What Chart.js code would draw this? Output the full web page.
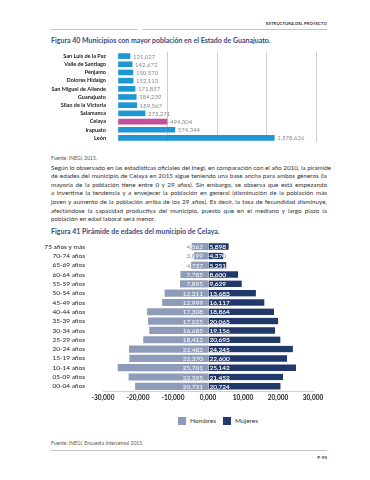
<!DOCTYPE html>
<html lang="es">
<head>
<meta charset="utf-8">
<script src="https://cdn.jsdelivr.net/npm/chart.js"></script>
<style>
  html, body { margin: 0; padding: 0; background: #fff; }
  body { width: 370px; height: 480px; position: relative; overflow: hidden; font-family: Lato, "Open Sans", sans-serif; color: #333; }
  .abs { position: absolute; }
  .rule { position: absolute; height: 1px; background: #c4c4c4; }
  .header { right: 43px; top: 20.5px; font-size: 4.2px; line-height: 5px; font-weight: 700; color: #333; letter-spacing: 0.1px; }
  .title { left: 51px; font-size: 7px; line-height: 9px; font-weight: 700; color: #3b4a7d; }
  .source { left: 51px; font-size: 5px; line-height: 6px; color: #555; }
  .para { left: 51px; top: 163.7px; width: 276px; font-size: 6.3px; line-height: 8.6px; color: #333; }
  .para div { white-space: nowrap; text-align: justify; text-align-last: justify; }
  .para div.last { text-align-last: left; }
  .legend { top: 417px; left: 0; width: 370px; height: 8px; font-size: 6.5px; line-height: 8px; color: #333; }
  .legend span.box { position: absolute; width: 8px; height: 8px; top: 0; }
  .legend span.txt { position: absolute; top: 0; }
  .page { right: 43px; top: 454.5px; font-size: 4.5px; line-height: 5px; font-weight: 700; color: #333; }
  canvas { position: absolute; left: 0; }
</style>
</head>
<body>

<div class="abs header">ESTRUCTURA DEL PROYECTO</div>
<div class="rule" style="left:51px; width:86px; top:28.5px;"></div>
<div class="rule" style="left:142px; width:185px; top:28.5px;"></div>

<div class="abs title" style="top:35.5px;">Figura 40 Municipios con mayor población en el Estado de Guanajuato.</div>
<canvas id="municipios" width="370" height="106" style="top:44px;"></canvas>
<div class="abs source" style="top:155px;">Fuente: INEGI, 2015.</div>

<div class="abs para">
  <div>Según lo observado en las estadísticas oficiales del Inegi, en comparación con el año 2010, la pirámide</div>
  <div>de edades del municipio de Celaya en 2015 sigue teniendo una base ancha para ambos géneros (la</div>
  <div>mayoría de la población tiene entre 0 y 29 años). Sin embargo, se observa que está empezando</div>
  <div>a invertirse la tendencia y a envejecer la población en general (disminución de la población más</div>
  <div>joven y aumento de la población arriba de los 29 años). Es decir, la tasa de fecundidad disminuye,</div>
  <div>afectándose la capacidad productiva del municipio, puesto que en el mediano y largo plazo la</div>
  <div class="last">población en edad laboral será menor.</div>
</div>

<div class="abs title" style="top:227px;">Figura 41 Pirámide de edades del municipio de Celaya.</div>
<canvas id="piramide" width="370" height="177" style="top:227.5px;"></canvas>
<div class="abs legend" id="legend"></div>

<div class="abs source" style="top:440px;">Fuente: INEGI, Encuesta Intercensal 2015.</div>
<div class="rule" style="left:51px; width:276px; top:450px;"></div>
<div class="abs page">P. 95</div>

<script>
// Figura 40
const municipios = ["San Luis de la Paz", "Valle de Santiago", "Pénjamo", "Dolores Hidalgo",
  "San Miguel de Allende", "Guanajuato", "Silao de la Victoria", "Salamanca", "Celaya", "Irapuato", "León"];
const poblacion = [121027, 142672, 150570, 152113, 171857, 184239, 189567, 273271, 494304, 574344, 1578626];
const destacado = "Celaya";

// Figura 41
const edades = ["75 años y más", "70-74 años", "65-69 años", "60-64 años", "55-59 años", "50-54 años",
  "45-49 años", "40-44 años", "35-39 años", "30-34 años", "25-29 años", "20-24 años",
  "15-19 años", "10-14 años", "05-09 años", "00-04 años"];
const hombres = [4562, 3899, 4737, 7785, 7895, 12311, 12999, 17308, 17025, 16685, 18412, 22482, 22370, 25701, 22595, 20731];
const mujeres = [5898, 4370, 5251, 8600, 9629, 13683, 16117, 18864, 20065, 19156, 20693, 24245, 22600, 25142, 21452, 20724];
const ejeValores = [-30000, -20000, -10000, 0, 10000, 20000, 30000];
const ejeEtiquetas = ["-30,000", "-20,000", "-10,000", "0,000", "10,000", "20,000", "30,000"];

const fmt = v => Math.abs(v).toLocaleString("en-US");
const AZUL = "#1f97d2", ROSA = "#c4509b";
const GRIS_H = "#8e9cba", AZUL_M = "#21396b";

// value labels after the bars (figura 40)
const etiquetasBarra = {
  id: "etiquetasBarra",
  afterDatasetsDraw(chart) {
    const c = chart.ctx;
    c.save();
    c.font = "6px Lato";
    c.fillStyle = "#8a8a8a";
    c.textBaseline = "middle";
    chart.getDatasetMeta(0).data.forEach((bar, i) => {
      c.fillText(fmt(poblacion[i]), bar.x + 3, bar.y + 0.5);
    });
    c.restore();
  }
};

new Chart(document.getElementById("municipios"), {
  type: "bar",
  data: {
    labels: municipios,
    datasets: [{
      data: poblacion,
      backgroundColor: ctx => municipios[ctx.dataIndex] === destacado ? ROSA : AZUL,
      barThickness: 5
    }]
  },
  options: {
    indexAxis: "y",
    responsive: false,
    animation: false,
    layout: { padding: { top: 8, bottom: 8, right: 54, left: 0 } },
    plugins: { legend: { display: false }, tooltip: { enabled: false } },
    scales: {
      x: {
        min: 0, max: 2000000,
        ticks: { display: false, stepSize: 500000 },
        grid: { color: ctx => ctx.tick && ctx.tick.value === 0 ? "rgba(0,0,0,0)" : "#cfcfcf", drawTicks: false },
        border: { display: false }
      },
      y: {
        afterFit: s => { s.width = 118; },
        ticks: { font: { family: "Lato", size: 5.5, weight: "bold" }, color: "#1a1a1a", padding: 4, autoSkip: false },
        grid: { display: false },
        border: { display: false }
      }
    }
  },
  plugins: [etiquetasBarra]
});

// value labels inside the pyramid bars, white on the bar and grey outside
const etiquetasPiramide = {
  id: "etiquetasPiramide",
  afterDatasetsDraw(chart) {
    const c = chart.ctx;
    const x0 = chart.scales.x.getPixelForValue(0);
    c.save();
    c.font = "6.5px Lato";
    c.textBaseline = "middle";
    chart.data.datasets.forEach((ds, d) => {
      const valores = d === 0 ? hombres : mujeres;
      chart.getDatasetMeta(d).data.forEach((bar, i) => {
        const txt = fmt(valores[i]);
        const tx = d === 0 ? x0 - 5 : x0 + 1.5;
        c.textAlign = d === 0 ? "right" : "left";
        c.fillStyle = "#8793ab";
        c.fillText(txt, tx, bar.y + 0.5);
        const left = Math.min(bar.x, bar.base), w = Math.abs(bar.x - bar.base);
        c.save();
        c.beginPath();
        c.rect(left, bar.y - bar.height / 2, w, bar.height);
        c.clip();
        c.fillStyle = "#ffffff";
        c.fillText(txt, tx, bar.y + 0.5);
        c.restore();
      });
    });
    c.restore();
  }
};

const piramide = new Chart(document.getElementById("piramide"), {
  type: "bar",
  data: {
    labels: edades,
    datasets: [
      { label: "Hombres", data: hombres.map(v => -v), backgroundColor: GRIS_H, barThickness: 6.5 },
      { label: "Mujeres", data: mujeres, backgroundColor: AZUL_M, barThickness: 6.5,
        borderColor: "#ffffff", borderWidth: { left: 1, right: 0, top: 0, bottom: 0 }, borderSkipped: false }
    ]
  },
  options: {
    indexAxis: "y",
    responsive: false,
    animation: false,
    layout: { padding: { top: 5, bottom: 2, right: 57, left: 0 } },
    plugins: { legend: { display: false }, tooltip: { enabled: false } },
    scales: {
      x: {
        stacked: true,
        min: ejeValores[0], max: ejeValores[ejeValores.length - 1],
        afterFit: s => { s.height = 12; },
        ticks: {
          stepSize: 10000,
          callback: v => ejeEtiquetas[ejeValores.indexOf(v)],
          font: { family: "Lato", size: 6.5, weight: "bold" }, color: "#1a1a1a", padding: 3,
          maxRotation: 0, autoSkip: false
        },
        grid: { display: false, drawTicks: false },
        border: { display: true, color: "#d0d0d0", width: 1 }
      },
      y: {
        stacked: true,
        afterFit: s => { s.width = 103; },
        ticks: { font: { family: "Lato", size: 6.5 }, color: "#1a1a1a", padding: 10, autoSkip: false },
        grid: { display: false },
        border: { display: false }
      }
    }
  },
  plugins: [etiquetasPiramide]
});

// legend built from the chart's datasets
const leg = document.getElementById("legend");
const legPos = [[178, 190], [223, 235]];
piramide.data.datasets.forEach((ds, i) => {
  const b = document.createElement("span");
  b.className = "box";
  b.style.left = legPos[i][0] + "px";
  b.style.background = ds.backgroundColor;
  const t = document.createElement("span");
  t.className = "txt";
  t.style.left = legPos[i][1] + "px";
  t.textContent = ds.label;
  leg.appendChild(b);
  leg.appendChild(t);
});
</script>
</body>
</html>
